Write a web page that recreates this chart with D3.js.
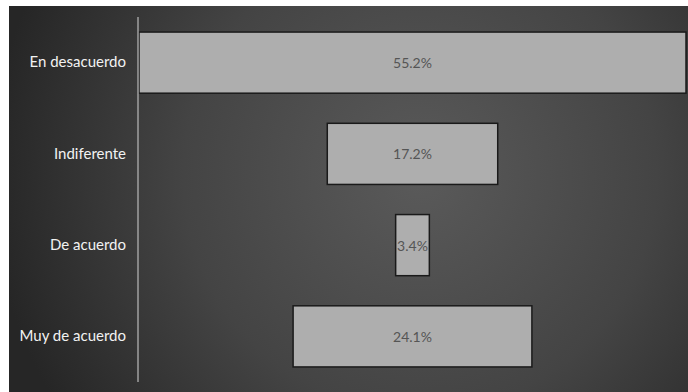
<!DOCTYPE html>
<html>
<head>
<meta charset="utf-8">
<script src="https://cdn.jsdelivr.net/npm/d3@7"></script>
<style>
  html, body { margin: 0; padding: 0; background: #ffffff; }
  svg { display: block; }
</style>
</head>
<body>
<div id="chart"></div>
<script>
// Response categories (top to bottom) and their shares in percent
const categories = ["En desacuerdo", "Indiferente", "De acuerdo", "Muy de acuerdo"];
const values = [55.2, 17.2, 3.4, 24.1];
const valueLabels = ["55.2%", "17.2%", "3.4%", "24.1%"];

const W = 688, H = 392;
const panel = { x: 9, y: 6 };
const plot = { left: 139, right: 686, top: 17, bottom: 382 };

const svg = d3.select("#chart").append("svg")
  .attr("width", W).attr("height", H);

// Dark radial background
const defs = svg.append("defs");
const rg = defs.append("radialGradient")
  .attr("id", "bg")
  .attr("gradientUnits", "userSpaceOnUse")
  .attr("cx", 420).attr("cy", 175).attr("r", 430);
rg.append("stop").attr("offset", "0%").attr("stop-color", "#5a5a5a");
rg.append("stop").attr("offset", "55%").attr("stop-color", "#444444");
rg.append("stop").attr("offset", "100%").attr("stop-color", "#262626");

svg.append("rect")
  .attr("x", panel.x).attr("y", panel.y)
  .attr("width", W - panel.x).attr("height", H - panel.y)
  .attr("fill", "url(#bg)");

// Scales: bands for categories, linear width centred on the plot
const y = d3.scaleBand()
  .domain(categories)
  .range([plot.top, plot.bottom])
  .paddingInner(0.33)
  .paddingOuter(0.165);

const maxV = d3.max(values);
const w = d3.scaleLinear()
  .domain([0, maxV])
  .range([0, plot.right - plot.left]);
const cx = (plot.left + plot.right) / 2;

const rows = categories.map((c, i) => ({ cat: c, v: values[i], label: valueLabels[i] }));

// Funnel bars
svg.append("g").selectAll("rect")
  .data(rows)
  .join("rect")
  .attr("x", d => cx - w(d.v) / 2)
  .attr("y", d => y(d.cat))
  .attr("width", d => w(d.v))
  .attr("height", y.bandwidth())
  .attr("fill", "#aeaeae")
  .attr("stroke", "#1a1a1a")
  .attr("stroke-width", 1.5);

// Value labels inside bars
svg.append("g").selectAll("text")
  .data(rows)
  .join("text")
  .attr("x", cx)
  .attr("y", d => y(d.cat) + y.bandwidth() / 2)
  .attr("text-anchor", "middle")
  .attr("dominant-baseline", "central")
  .attr("font-family", "Lato, 'Open Sans', sans-serif")
  .attr("font-size", 14)
  .attr("fill", "#555555")
  .text(d => d.label);

// Category axis
const axis = svg.append("g")
  .attr("transform", `translate(${plot.left - 1},0)`)
  .call(d3.axisLeft(y).tickSize(0).tickPadding(12));
axis.select(".domain")
  .attr("d", `M0,${plot.top}V${plot.bottom}`)
  .attr("stroke", "#a0a0a0")
  .attr("stroke-width", 1.5);
axis.selectAll("text")
  .attr("font-family", "Lato, 'Open Sans', sans-serif")
  .attr("font-size", 15)
  .attr("fill", "#f2f2f2");
</script>
</body>
</html>
